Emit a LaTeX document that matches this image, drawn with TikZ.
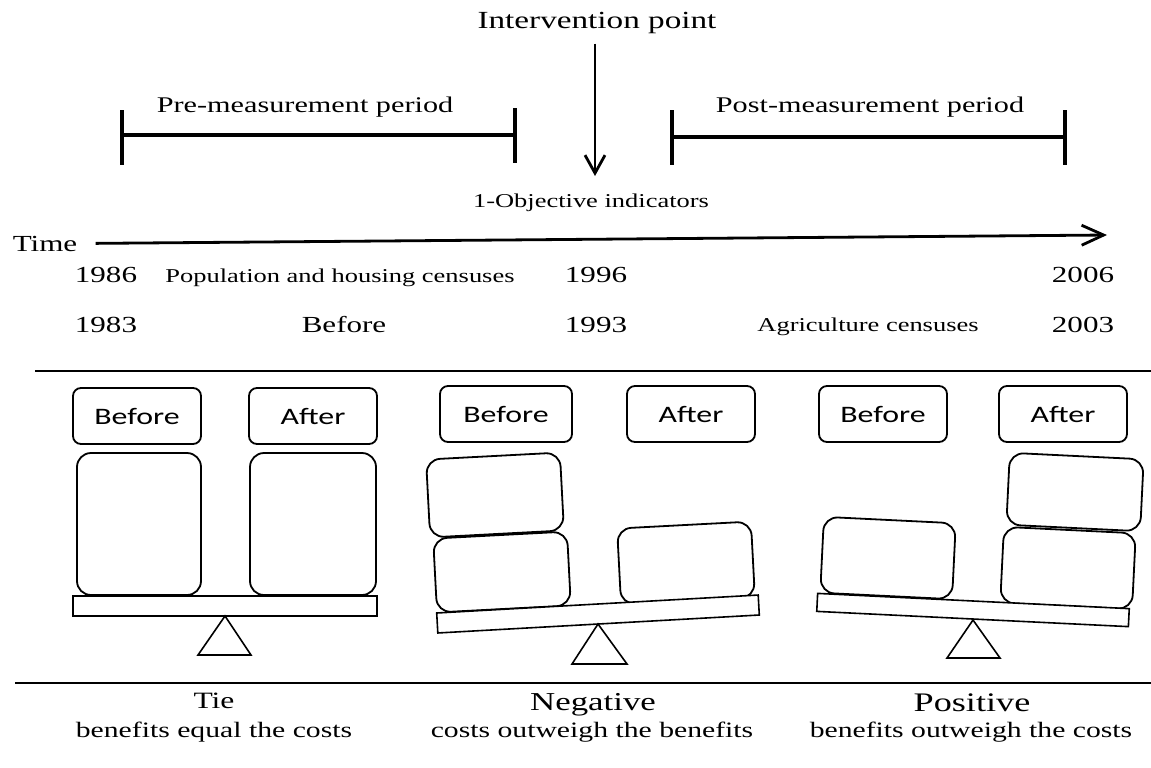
\documentclass[tikz,border=0pt]{standalone}
\usepackage{graphicx}
\usepackage{fontspec}
\setmainfont{Liberation Serif}
\newfontfamily\tagfont{Carlito}
\usetikzlibrary{arrows.meta,positioning}

% the source sets its type wide
\newcommand{\hwide}[1]{\scalebox{1.35}[1]{#1}}

\tikzset{
  tagbox/.style={draw, line width=0.9pt, rounded corners=4pt, minimum width=64pt,
    minimum height=28pt, inner sep=0pt, font=\tagfont\fontsize{11.8}{14}\selectfont},
  weight/.style={draw, line width=0.9pt, rounded corners=7pt, inner sep=0pt},
  beam/.style={draw, line width=0.8pt, fill=white, inner sep=0pt, minimum height=10pt},
  bracket/.style={line width=1.6pt},
  pivot/.style={line width=0.8pt, fill=white},
  lbl/.style={anchor=base, inner sep=1pt},
  yr/.style={lbl, font=\fontsize{11.5}{14}\selectfont},
  cens/.style={lbl, font=\fontsize{9.8}{12}\selectfont},
  sub/.style={lbl, font=\fontsize{11}{13}\selectfont},
}

\begin{document}
\begin{tikzpicture}[x=0.5pt,y=-0.5pt]
    \useasboundingbox (0,0) rectangle (1151,767);

    % intervention point
    \node[lbl, font=\fontsize{12.3}{15}\selectfont] (intv) at (597,28) {\hwide{Intervention point}};
    \coordinate (intvtip) at (595,176);
    \draw[line width=1.4pt, -{Straight Barb[length=9pt,width=10pt]}, shorten <=4pt] (intv.south -| intvtip) -- (intvtip);

    % periods
    \node[lbl, font=\fontsize{11.2}{14}\selectfont] (pre) at (305,112) {\hwide{Pre-measurement period}};
    \draw[bracket] (122,110) -- (122,165);
    \draw[bracket] (515,108) -- (515,163);
    \draw[bracket] (122,135) -- (515,135);

    \node[lbl, font=\fontsize{11.2}{14}\selectfont] (post) at (870,112) {\hwide{Post-measurement period}};
    \draw[bracket] (672,110) -- (672,165);
    \draw[bracket] (1065,110) -- (1065,165);
    \draw[bracket] (672,137) -- (1065,137);

    \node[cens] (objind) at (591,207) {\hwide{1-Objective indicators}};

    % time axis
    \node[yr] (timelbl) at (45,251) {\hwide{Time}};
    \coordinate (timeend) at (1107,235);
    \draw[line width=1.4pt, -{Straight Barb[length=11pt,width=10pt]}, shorten <=8pt] (timelbl.east) -- (timeend);

    % years
    \node[yr] (y1986) at (106,282) {\hwide{1986}};
    \node[cens] (popcens) at (340,282) {\hwide{Population and housing censuses}};
    \node[yr] (y1996) at (596,282) {\hwide{1996}};
    \node[yr] (y2006) at (1083,282) {\hwide{2006}};
    \node[yr] (y1983) at (106,332) {\hwide{1983}};
    \node[yr] (befr) at (344,332) {\hwide{Before}};
    \node[yr] (y1993) at (596,332) {\hwide{1993}};
    \node[cens] (agrcens) at (868,331) {\hwide{Agriculture censuses}};
    \node[yr] (y2003) at (1083,332) {\hwide{2003}};

    % separators
    \draw[line width=1.1pt] (35,371) -- (1151,371);
    \draw[line width=1.1pt] (15,683) -- (1151,683);

    % tie
    \node[tagbox] (tbefore) at (137,416) {\hwide{Before}};
    \node[tagbox] (tafter) at (313,416) {\hwide{After}};
    \node[weight, minimum width=62pt, minimum height=71pt] (tw1) at (139,524) {};
    \node[weight, minimum width=63pt, minimum height=71pt] (tw2) at (313,524) {};
    \node[beam, minimum width=152pt] (tbeam) at (225,606) {};
    \draw[pivot] (225,616) -- (198,655) -- (251,655) -- cycle;

    % negative
    \node[tagbox, minimum width=66pt] (nbefore) at (506,414) {\hwide{Before}};
    \node[tagbox] (nafter) at (691,414) {\hwide{After}};
    \node[weight, rotate=3, minimum width=67pt, minimum height=39pt] (nw1) at (495,495) {};
    \node[weight, rotate=3, minimum width=67pt, minimum height=37pt] (nw2) at (502,572) {};
    \node[weight, rotate=3, minimum width=67pt, minimum height=38pt] (nw3) at (686,563) {};
    \node[beam, rotate=3.2, minimum width=161pt] (nbeam) at (598,614) {};
    \draw[pivot] (598,624) -- (572,664) -- (627,664) -- cycle;

    % positive
    \node[tagbox] (pbefore) at (883,414) {\hwide{Before}};
    \node[tagbox] (pafter) at (1063,414) {\hwide{After}};
    \node[weight, rotate=-2.8, minimum width=66pt, minimum height=38pt] (pw1) at (888,558) {};
    \node[weight, rotate=-2.8, minimum width=67pt, minimum height=36pt] (pw2) at (1075,492) {};
    \node[weight, rotate=-2.8, minimum width=66pt, minimum height=38pt] (pw3) at (1068,568) {};
    \node[beam, rotate=-2.8, minimum width=156pt, minimum height=9pt] (pbeam) at (973,610) {};
    \draw[pivot] (973,620) -- (947,658) -- (1000,658) -- cycle;

    % captions
    \node[lbl, font=\fontsize{11.7}{14}\selectfont] (tiecap) at (214,708) {\hwide{Tie}};
    \node[sub] (tiesub) at (214,737) {\hwide{benefits equal the costs}};
    \node[lbl, font=\fontsize{12.9}{15}\selectfont] (negcap) at (593,710) {\hwide{Negative}};
    \node[sub] (negsub) at (592,737) {\hwide{costs outweigh the benefits}};
    \node[lbl, font=\fontsize{13.4}{16}\selectfont] (poscap) at (972,711) {\hwide{Positive}};
    \node[sub] (possub) at (971,737) {\hwide{benefits outweigh the costs}};
\end{tikzpicture}
\end{document}
